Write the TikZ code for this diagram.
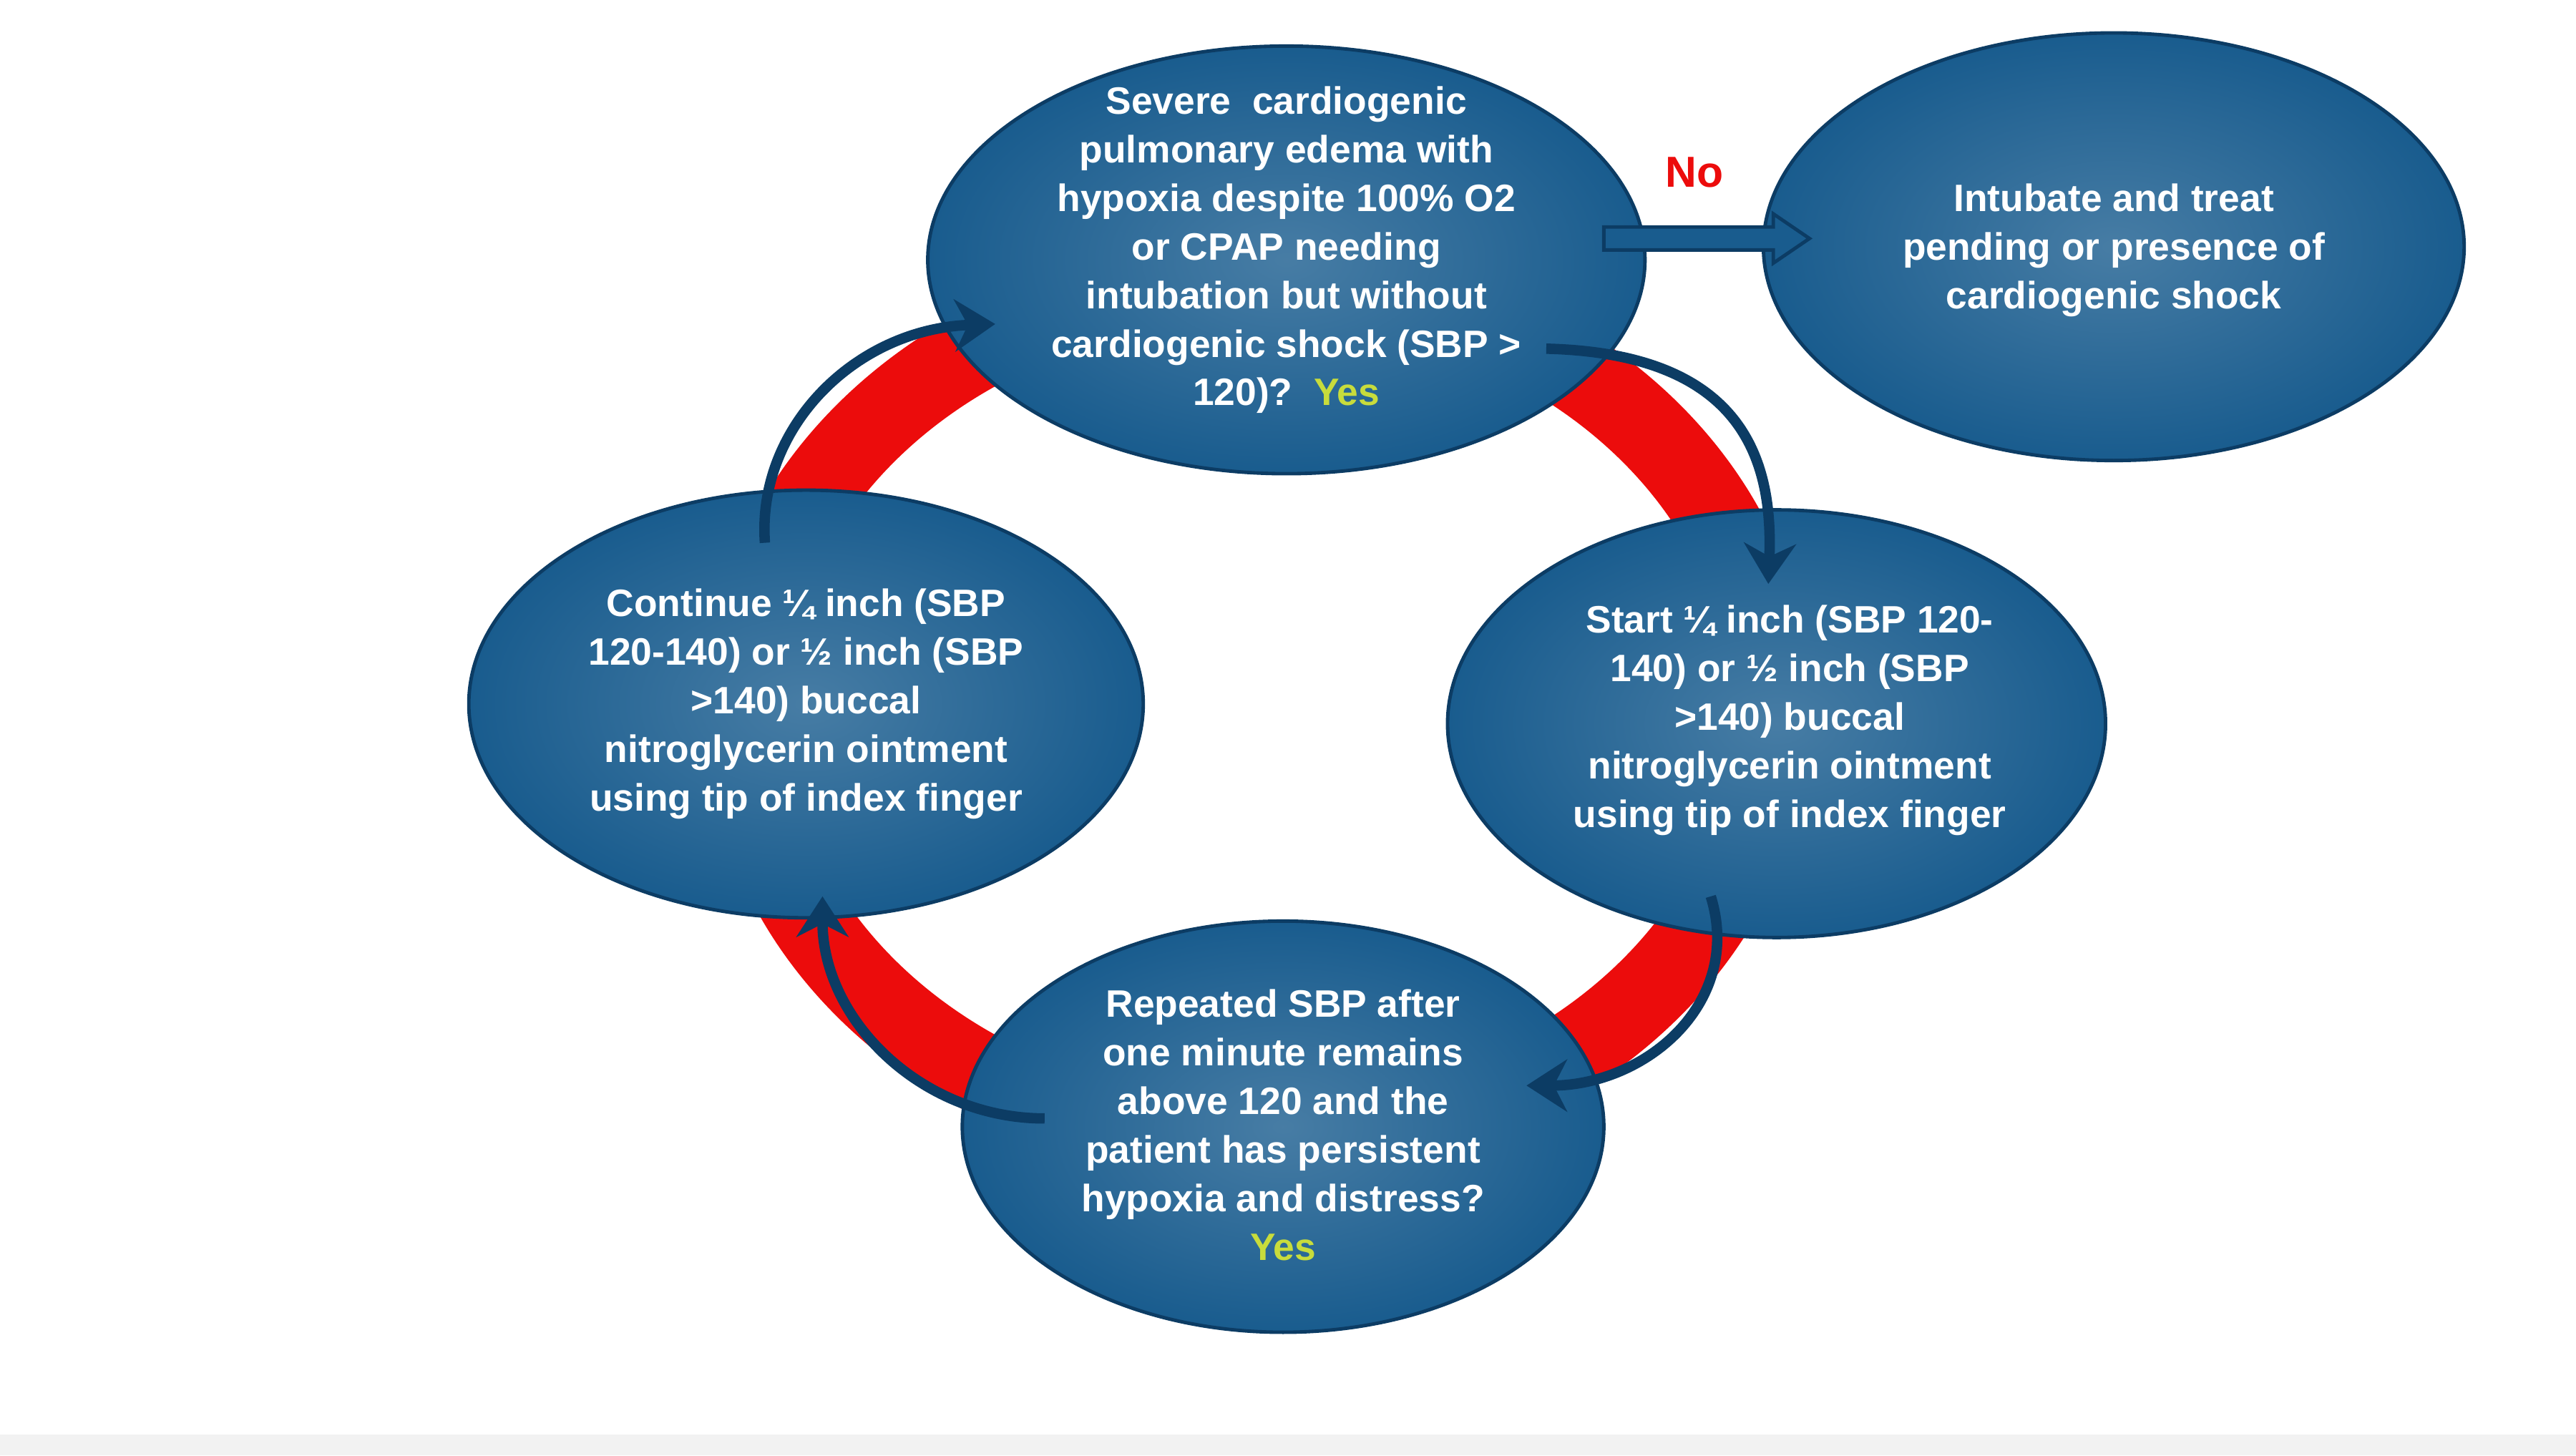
\documentclass[tikz,border=0pt]{standalone}
\usepackage{fontspec}
\setmainfont{Liberation Sans}
\usetikzlibrary{arrows.meta,shapes.geometric}
\definecolor{ebl}{RGB}{25,92,142}
\definecolor{ebd}{RGB}{12,60,100}
\definecolor{ringred}{RGB}{236,12,12}
\definecolor{yes}{RGB}{200,220,60}
\tikzset{
 flow/.style={draw=ebd, line width=1.8pt, -{Stealth[length=7pt,width=9pt]}},
 lbl/.style={text=white, align=center, font=\bfseries\fontsize{6.6}{8.4}\selectfont},
}
\begin{document}
\begin{tikzpicture}[x=0.01cm,y=-0.01cm]
\useasboundingbox (0,0) rectangle (1566,885);
\fill[white] (0,0) rectangle (1566,885);
\fill[gray!10] (0,872) rectangle (1566,885);
% red ring
\draw[ringred, line width=14pt] (765,432) ellipse [x radius=312, y radius=262];
% nodes
\foreach \n/\cx/\cy/\rx/\ry in {top/782/158/218/130, rt/1285/150/213/130, lf/490/428/205/130, rm/1080/440/200/130, bt/780/685/195/125}{
  \shade[inner color=ebl!80!white, outer color=ebl] (\cx,\cy) ellipse [x radius=\rx, y radius=\ry];
  \draw[ebd, line width=0.6pt] (\cx,\cy) ellipse [x radius=\rx, y radius=\ry];
  \coordinate (\n) at (\cx,\cy);
}
\node[lbl] (ttop) at (782,152) {Severe\ \ cardiogenic\\pulmonary edema with\\hypoxia despite 100\% O2\\or CPAP needing\\intubation but without\\cardiogenic shock (SBP >\\120)?\ \ \textcolor{yes}{Yes}};
\node[lbl] (trt) at (1285,152) {Intubate and treat\\pending or presence of\\cardiogenic shock};
\node[lbl] (tlf) at (490,428) {Continue ¼ inch (SBP\\120-140) or ½ inch (SBP\\>140) buccal\\nitroglycerin ointment\\using tip of index finger};
\node[lbl] (trm) at (1088,438) {Start ¼ inch (SBP 120-\\140) or ½ inch (SBP\\>140) buccal\\nitroglycerin ointment\\using tip of index finger};
\node[lbl] (tbt) at (780,684) {Repeated SBP after\\one minute remains\\above 120 and the\\patient has persistent\\hypoxia and distress?\\\textcolor{yes}{Yes}};
% No arrow
\draw[ebd, fill=ebl, line width=0.6pt] (975,138) -- (1078,138) -- (1078,130) -- (1100,145) -- (1078,160) -- (1078,152) -- (975,152) -- cycle;
\node[text=ringred, font=\bfseries\fontsize{7.5}{9}\selectfont] (no) at (1030,105) {No};
% curved flow arrows
\coordinate (a1) at (940,212); \coordinate (a2) at (1075,355);
\coordinate (b1) at (1040,545); \coordinate (b2) at (928,660);
\coordinate (c1) at (635,680); \coordinate (c2) at (500,545);
\coordinate (d1) at (465,330); \coordinate (d2) at (605,197);
\draw[flow] (a1) .. controls (1060,215) and (1078,280) .. (a2);
\draw[flow] (b1) .. controls (1060,610) and (1000,660) .. (b2);
\draw[flow] (c1) .. controls (560,680) and (500,620) .. (c2);
\draw[flow] (d1) .. controls (460,260) and (520,200) .. (d2);
\end{tikzpicture}
\end{document}
